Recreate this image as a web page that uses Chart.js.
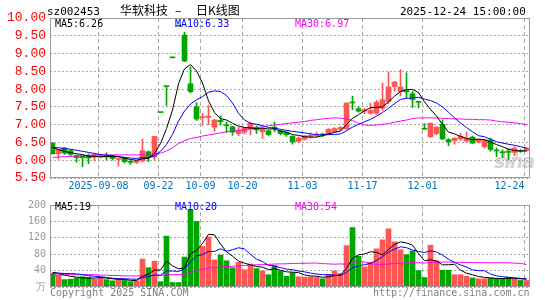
<!DOCTYPE html>
<html><head><meta charset="utf-8">
<script src="https://cdn.jsdelivr.net/npm/chart.js@4.4.1/dist/chart.umd.min.js"></script>
<style>
html,body{margin:0;padding:0;background:#fff;width:545px;height:300px;overflow:hidden;}
body{position:relative;font-family:"DejaVu Sans Mono",monospace;}
canvas{position:absolute;left:0;}
#c1{top:0;}
#c2{top:195px;}
.t{position:absolute;white-space:pre;font-size:10px;line-height:10px;font-family:"DejaVu Sans Mono",monospace;}
.h{position:absolute;white-space:pre;font-size:11px;line-height:11px;font-family:"DejaVu Sans Mono",monospace;color:#000;top:6px;}
.c{position:absolute;white-space:pre;font-size:12px;line-height:14px;font-family:"Noto Sans CJK SC",sans-serif;color:#000;top:3px;}
.wm{position:absolute;left:494px;top:150px;font:italic bold 19px "DejaVu Sans",sans-serif;color:#d4d4d4;letter-spacing:-1px;}
.wmc{position:absolute;left:503px;top:148px;width:11px;height:11px;border:2px solid #f3c4c4;border-radius:50%;}
</style></head><body>
<div class="wmc"></div><div class="wm">sina</div>
<canvas id="c1" width="545" height="195" style="width:545px;height:195px"></canvas>
<canvas id="c2" width="545" height="105" style="width:545px;height:105px"></canvas>
<div class="h" style="left:47px">sz002453</div>
<div class="c" style="left:120px">华软科技</div>
<div class="c" style="left:175px">–</div>
<div class="c" style="left:196px">日K线图</div>
<div class="h" style="left:400px">2025-12-24 15:00:00</div>
<div class="t" style="left:55px;top:19px;color:#000">MA5:6.26</div>
<div class="t" style="left:175px;top:19px;color:#0000ff">MA10:6.33</div>
<div class="t" style="left:295px;top:19px;color:#ff00ff">MA30:6.97</div>
<div class="t" style="left:55px;top:202px;color:#000">MA5:19</div>
<div class="t" style="left:175px;top:202px;color:#0000ff">MA10:20</div>
<div class="t" style="left:295px;top:202px;color:#ff00ff">MA30:54</div>
<div class="t" style="left:50px;top:288px;color:#808080">Copyright 2025 SINA.COM</div>
<div class="t" style="left:373px;top:288px;color:#808080">http://finance.sina.com.cn</div>
<script>
const dates = ['08-27','08-28','08-29','09-01','09-02','09-03','09-04','09-05','09-08','09-09','09-10','09-11','09-12','09-15','09-16','09-17','09-18','09-19','09-22','09-23','09-24','09-25','09-26','09-29','09-30','10-09','10-10','10-13','10-14','10-15','10-16','10-17','10-20','10-21','10-22','10-23','10-24','10-27','10-28','10-29','10-30','10-31','11-03','11-04','11-05','11-06','11-07','11-10','11-11','11-12','11-13','11-14','11-17','11-18','11-19','11-20','11-21','11-24','11-25','11-26','11-27','11-28','12-01','12-02','12-03','12-04','12-05','12-08','12-09','12-10','12-11','12-12','12-15','12-16','12-17','12-18','12-19','12-22','12-23','12-24'];
const open = [6.48,6.18,6.34,6.27,6.13,6.11,6.13,6.08,6.09,6.12, 6.10,6.02,6.06,5.95,5.94,5.98,6.24,6.09,7.34,8.07, 8.88,9.77,9.52,8.15,7.50,7.20,7.20,6.93,7.12,6.99, 6.94,6.75,6.79,6.87,6.92,6.80,6.83,6.93,6.82,6.78, 6.67,6.53,6.59,6.66,6.69,6.73,6.74,6.80,6.87,6.88, 7.63,7.45,7.38,7.32,7.32,7.46,7.65,8.07,7.93,7.98, 7.87,7.65,6.87,6.66,6.75,7.01,6.58,6.55,6.60,6.54, 6.65,6.51,6.38,6.57,6.28,6.23,6.24,6.22,6.27,6.27];
const high = [6.50,6.31,6.36,6.30,6.15,6.14,6.18,6.18,6.17,6.21, 6.13,6.06,6.08,6.00,6.01,6.60,6.26,6.67,7.34,8.07, 8.88,9.77,9.60,8.62,7.62,7.32,7.55,7.15,7.25,7.07, 6.96,6.93,6.93,7.06,6.97,6.92,6.85,7.07,6.85,6.80, 6.69,6.65,6.70,6.77,6.79,6.76,6.89,6.92,6.95,7.61, 7.80,7.50,7.46,7.60,7.68,8.17,8.48,8.22,8.55,8.46, 7.94,7.66,7.03,7.05,6.95,7.14,6.61,6.63,6.76,6.79, 6.68,6.60,6.59,6.62,6.35,6.29,6.31,6.38,6.30,6.36];
const low = [6.17,6.03,6.16,6.12,5.94,5.82,5.90,5.98,6.06,6.01, 6.00,5.83,5.92,5.88,5.90,5.95,5.96,6.00,7.34,7.54, 8.88,9.77,8.77,7.89,7.12,6.98,7.00,6.82,6.99,6.78, 6.70,6.69,6.74,6.71,6.75,6.61,6.69,6.80,6.71,6.67, 6.45,6.50,6.57,6.62,6.65,6.67,6.72,6.78,6.83,6.87, 7.42,7.35,7.31,7.29,7.29,7.40,7.59,7.94,7.81,7.75, 7.48,7.47,6.87,6.64,6.72,6.58,6.41,6.45,6.55,6.51, 6.46,6.48,6.34,6.25,6.10,6.08,6.02,6.13,6.22,6.25];
const close = [6.18,6.30,6.20,6.17,6.07,6.07,6.06,6.16,6.12,6.10, 6.05,6.05,5.96,5.94,5.99,6.27,6.09,6.67,7.34,8.07, 8.88,9.77,8.79,7.93,7.16,7.22,7.24,7.13,7.08,6.97, 6.79,6.84,6.91,7.04,6.85,6.88,6.72,6.90,6.75,6.72, 6.52,6.62,6.69,6.70,6.72,6.71,6.87,6.89,6.92,7.61, 7.61,7.38,7.41,7.40,7.63,7.70,8.06,8.20,8.06,7.92, 7.71,7.63,6.87,7.04,6.93,6.60,6.52,6.62,6.67,6.62, 6.48,6.57,6.57,6.30,6.26,6.21,6.22,6.34,6.25,6.34];
const ma5 = [6.36,6.30,6.25,6.21,6.18,6.16,6.11,6.11,6.10,6.10, 6.10,6.10,6.06,6.02,6.00,6.04,6.05,6.19,6.47,6.89, 7.41,8.15,8.57,8.69,8.51,8.17,7.67,7.34,7.17,7.13, 7.04,6.96,6.92,6.91,6.89,6.90,6.88,6.88,6.82,6.79, 6.72,6.70,6.66,6.65,6.65,6.69,6.74,6.78,6.82,7.00, 7.18,7.28,7.39,7.48,7.49,7.50,7.64,7.80,7.93,7.99, 7.99,7.90,7.64,7.43,7.24,7.01,6.79,6.74,6.67,6.61, 6.58,6.59,6.58,6.51,6.44,6.38,6.31,6.27,6.26,6.26];
const ma10 = [6.36,6.35,6.33,6.31,6.28,6.25,6.22,6.19,6.16,6.14, 6.13,6.10,6.08,6.06,6.05,6.07,6.07,6.12,6.25,6.44, 6.73,7.10,7.38,7.58,7.70,7.79,7.91,7.95,7.93,7.82, 7.61,7.32,7.13,7.04,7.01,6.97,6.92,6.90,6.87,6.84, 6.81,6.79,6.77,6.74,6.72,6.71,6.72,6.72,6.74,6.83, 6.93,7.01,7.08,7.15,7.24,7.34,7.46,7.59,7.71,7.74, 7.75,7.77,7.72,7.68,7.61,7.50,7.35,7.19,7.05,6.92, 6.80,6.69,6.66,6.59,6.52,6.48,6.45,6.42,6.38,6.34];
const ma30 = [6.08,6.09,6.10,6.11,6.12,6.13,6.14,6.14,6.15,6.15, 6.15,6.15,6.15,6.15,6.15,6.15,6.14,6.16,6.20,6.26, 6.35,6.47,6.55,6.61,6.64,6.68,6.71,6.74,6.77,6.80, 6.82,6.84,6.86,6.89,6.92,6.94,6.97,6.99,7.01,7.03, 7.05,7.07,7.09,7.12,7.14,7.16,7.18,7.19,7.18,7.16, 7.12,7.04,6.99,6.98,6.99,7.01,7.03,7.07,7.10,7.13, 7.17,7.19,7.19,7.19,7.19,7.18,7.17,7.16,7.16,7.15, 7.15,7.14,7.14,7.13,7.10,7.08,7.07,7.05,7.03,7.00];
const volume = [33,29,18,19,22,25,24,19,24,18, 15,19,16,13,15,68,47,63,13,124, 11,11,73,189,160,99,122,66,78,64, 47,60,42,56,45,39,30,52,38,26, 35,25,24,25,24,20,31,39,33,101, 145,75,49,60,93,115,142,110,91,79, 88,40,23,102,64,41,41,30,30,26, 22,20,20,22,21,20,24,19,16,16];
const vma5 = [36,33,29,26,24.2,22.6,21.6,21.8,22.8,22, 20,19,18.4,16.2,15.6,26.2,31.8,41.2,41.2,63, 51.6,44.4,46.4,81.6,88.8,106.4,128.6,127.2,105,85.8, 75.4,63,58.2,53.8,50,48.4,42.4,44.4,40.8,37, 36.2,35.2,29.6,27,26.6,23.6,24.8,27.8,29.4,44.8, 69.8,78.6,80.6,86,84.4,78.4,91.8,104,110.2,107.4, 102,81.6,64.2,66.4,63.4,54,54.2,55.6,41.2,33.6, 29.8,25.6,23.6,22,21,20.6,21.4,21.2,20,19];
const vma10 = [34,34,33,33,32,30,28,26,25,23.1, 21.3,20.3,20.1,19.5,18.8,23.1,25.4,29.8,28.7,39.3, 38.9,38.1,43.8,61.4,75.9,79,86.5,86.8,93.3,87.3, 90.9,95.8,92.7,79.4,67.9,61.9,52.7,51.3,47.3,43.5, 42.3,38.8,37,33.9,31.8,29.9,30,28.7,28.2,35.7, 46.7,51.7,54.2,57.7,64.6,74.1,85.2,92.3,98.1,95.9, 90.2,86.7,84.1,88.3,85.4,78,67.9,59.9,53.8,48.5, 41.9,39.9,39.6,31.6,27.3,25.2,23.5,22.4,21,20];
const vma30 = [29,29,30,30,30,30,30,30,29,29, 28,28,27,27,27,27,27,28,28,30, 30,30,31,36,41,43,46,47,49,49.9, 50.4,51.4,52.2,53.4,54.2,54.7,54.9,56,56.4,56.7, 57.4,57.6,57.8,58.2,58.5,56.9,56.4,55.6,56.3,55.5, 60,62.1,61.3,57,54.8,55.3,56,57.4,57.9,58.4, 59.7,59.1,58.4,60,60.6,60.7,61,60.3,60,60, 59.6,59.4,59.3,59.2,59.1,59.1,58.9,58.2,57.6,54.8];
const priceTicks = [5.5,6.0,6.5,7.0,7.5,8.0,8.5,9.0,9.5,10.0];
const priceTickLabels = ['5.50','6.00','6.50','7.00','7.50','8.00','8.50','9.00','9.50','10.00'];
const volTicks = [0,40,80,120,160,200];
const volTickLabels = ['万','40','80','120','160','200'];
const dateTicks = ['09-08','09-22','10-09','10-20','11-03','11-17','12-01','12-24'];
const dateTickLabels = ['2025-09-08','09-22','10-09','10-20','11-03','11-17','12-01','12-24'];

const UP = '#ff5555', DOWN = '#00a600', GRID = '#a8a8a8', FRAME = '#999999';
const idx = dates.map((d, i) => i);
const isUp = i => close[i] > open[i];
const colors = idx.map(i => isUp(i) ? UP : DOWN);

Chart.defaults.font.family = '"DejaVu Sans Mono", monospace';
Chart.defaults.font.size = 10;
Chart.defaults.animation = false;

const frame = {
  id: 'frame',
  afterDraw(chart) {
    const {ctx, chartArea: a} = chart;
    ctx.save();
    ctx.strokeStyle = FRAME; ctx.lineWidth = 1; ctx.setLineDash([]);
    ctx.strokeRect(a.left + 0.5, a.top + 0.5, a.right - a.left - 1, a.bottom - a.top - 1);
    ctx.restore();
  }
};

function xScale(showLabels) {
  return {
    type: 'linear', min: -0.41667, max: 79.58333, offset: false,
    afterBuildTicks: s => { s.ticks = dateTicks.map(d => ({value: dates.indexOf(d) - 1/3})); },
    afterFit: s => { s.height = showLabels ? 17 : 0; s.paddingLeft = 0; s.paddingRight = 0; },
    grid: {color: GRID, lineWidth: 1, drawTicks: false, offset: false},
    border: {display: false, dash: [4, 3]},
    ticks: {
      display: showLabels, autoSkip: false, maxRotation: 0, minRotation: 0, padding: 2,
      color: '#0070c0', font: {size: 10},
      callback: (v, i, arr) => i === arr.length - 1 ? dateTickLabels[i] + '     ' : dateTickLabels[i]
    }
  };
}
function lineDs(data, color) {
  return {type: 'line', data: data.map((v, i) => ({x: i, y: v})), borderColor: color, borderWidth: 1,
    pointRadius: 0, tension: 0, fill: false, order: 0};
}
const common = {
  responsive: false, devicePixelRatio: 1, animation: false, events: [],
  plugins: {legend: {display: false}, tooltip: {enabled: false}}
};

new Chart(document.getElementById('c1'), {
  type: 'bar',
  data: {datasets: [
    {type: 'bar', data: idx.map(i => ({x: i, y: [low[i], high[i]]})), backgroundColor: colors,
      barThickness: 1, grouped: false, borderWidth: 0, order: 2},
    {type: 'bar', data: idx.map(i => ({x: i, y: [Math.min(open[i], close[i]), Math.max(open[i], close[i])]})),
      backgroundColor: colors, barThickness: 5, minBarLength: 1, grouped: false, borderWidth: 0, order: 1},
    lineDs(ma5, '#000000'), lineDs(ma10, '#0000ff'), lineDs(ma30, '#ff00ff')
  ]},
  options: Object.assign({}, common, {
    layout: {padding: {left: 0, top: 18, right: 15, bottom: 0}},
    scales: {
      x: xScale(true),
      y: {
        type: 'linear', min: 5.5, max: 10,
        afterBuildTicks: s => { s.ticks = priceTicks.map(v => ({value: v})); },
        afterFit: s => { s.width = 50; },
        grid: {color: GRID, drawTicks: false},
        border: {display: false, dash: [2, 2]},
        ticks: {color: '#ff0000', padding: 4, autoSkip: false,
          font: {size: 13, family: '"Liberation Mono", monospace'},
          callback: (v, i) => priceTickLabels[i]}
      }
    }
  }),
  plugins: [frame]
});

new Chart(document.getElementById('c2'), {
  type: 'bar',
  data: {datasets: [
    {type: 'bar', data: idx.map(i => ({x: i, y: volume[i]})), backgroundColor: colors,
      barThickness: 5, grouped: false, borderWidth: 0, order: 1},
    lineDs(vma5, '#000000'), lineDs(vma10, '#0000ff'), lineDs(vma30, '#ff00ff')
  ]},
  options: Object.assign({}, common, {
    layout: {padding: {left: 0, top: 6, right: 15, bottom: 13}},
    scales: {
      x: xScale(false),
      y: {
        type: 'linear', min: 0, max: 200,
        afterBuildTicks: s => { s.ticks = volTicks.map(v => ({value: v})); },
        afterFit: s => { s.width = 50; },
        grid: {color: GRID, drawTicks: false},
        border: {display: false, dash: [2, 2]},
        ticks: {color: '#999999', padding: 4, autoSkip: false, font: {size: 10},
          callback: (v, i) => volTickLabels[i]}
      }
    }
  }),
  plugins: [frame]
});
</script>
</body></html>
